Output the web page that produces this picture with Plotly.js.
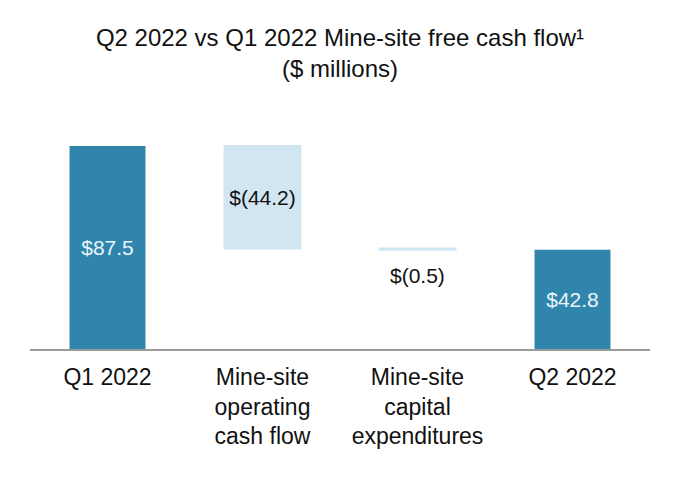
<!DOCTYPE html>
<html>
<head>
<meta charset="utf-8">
<script src="https://cdn.plot.ly/plotly-3.0.1.min.js"></script>
<style>html,body{margin:0;padding:0;background:#fff;}#chart{width:680px;height:480px;}</style>
</head>
<body>
<div id="chart"></div>
<script>
const categories = ["Q1 2022", "Mine-site<br>operating<br>cash flow", "Mine-site<br>capital<br>expenditures", "Q2 2022"];
const measures = ["absolute", "relative", "relative", "total"];
const values = [87.5, -44.2, -0.5, 42.8];
const labels = ["$87.5", "$(44.2)", "$(0.5)", "$42.8"];
const labelInside = [true, true, false, true];
const labelColors = ["#eaf5fa", "#111111", "#111111", "#eaf5fa"];

const darkBlue = "#2f85ab";
const lightBlue = "#d2e6f1";
const FONT = "Liberation Sans, Arial, sans-serif";

// running totals (for placing outside labels below the bar end)
const ends = [];
let run = 0;
values.forEach((v, i) => {
  if (measures[i] === "absolute") run = v;
  else if (measures[i] === "relative") run += v;
  ends.push(run);
});

const trace = {
  type: "waterfall",
  x: categories,
  measure: measures,
  y: values.map((v, i) => measures[i] === "total" ? 0 : v),
  text: labels.map((t, i) => labelInside[i] ? t : ""),
  textposition: "inside",
  insidetextanchor: "middle",
  textfont: {family: FONT, size: 21, color: labelColors},
  constraintext: "none",
  cliponaxis: false,
  width: 0.49,
  connector: {visible: false},
  increasing: {marker: {color: darkBlue}},
  decreasing: {marker: {color: lightBlue, line: {color: lightBlue, width: 2}}},
  totals: {marker: {color: darkBlue}},
  hoverinfo: "skip"
};

const annotations = labels.map((t, i) => labelInside[i] ? null : {
  x: categories[i], y: ends[i], xref: "x", yref: "y",
  text: t, showarrow: false, yanchor: "top", yshift: -12,
  font: {family: FONT, size: 21, color: labelColors[i]}
}).filter(a => a);

const layout = {
  width: 680, height: 480,
  margin: {l: 30, r: 30, t: 117, b: 131},
  paper_bgcolor: "#ffffff",
  plot_bgcolor: "#ffffff",
  font: {family: FONT, size: 23, color: "#111111"},
  title: {
    text: "Q2 2022 vs Q1 2022 Mine-site free cash flow¹<br>($ millions)",
    x: 0.5, xanchor: "center",
    y: 0.905, yanchor: "top",
    font: {family: FONT, size: 24, color: "#111111"}
  },
  showlegend: false,
  annotations: annotations,
  xaxis: {
    type: "category",
    showgrid: false,
    zeroline: false,
    showline: true,
    linecolor: "#9a9a9a",
    linewidth: 2,
    ticks: "",
    ticklabelstandoff: 6,
    tickfont: {family: FONT, size: 23, color: "#111111"},
    fixedrange: true
  },
  yaxis: {
    range: [0, 100],
    visible: false,
    showgrid: false,
    zeroline: false,
    fixedrange: true
  }
};

Plotly.newPlot("chart", [trace], layout, {displayModeBar: false, staticPlot: true});
</script>
</body>
</html>
